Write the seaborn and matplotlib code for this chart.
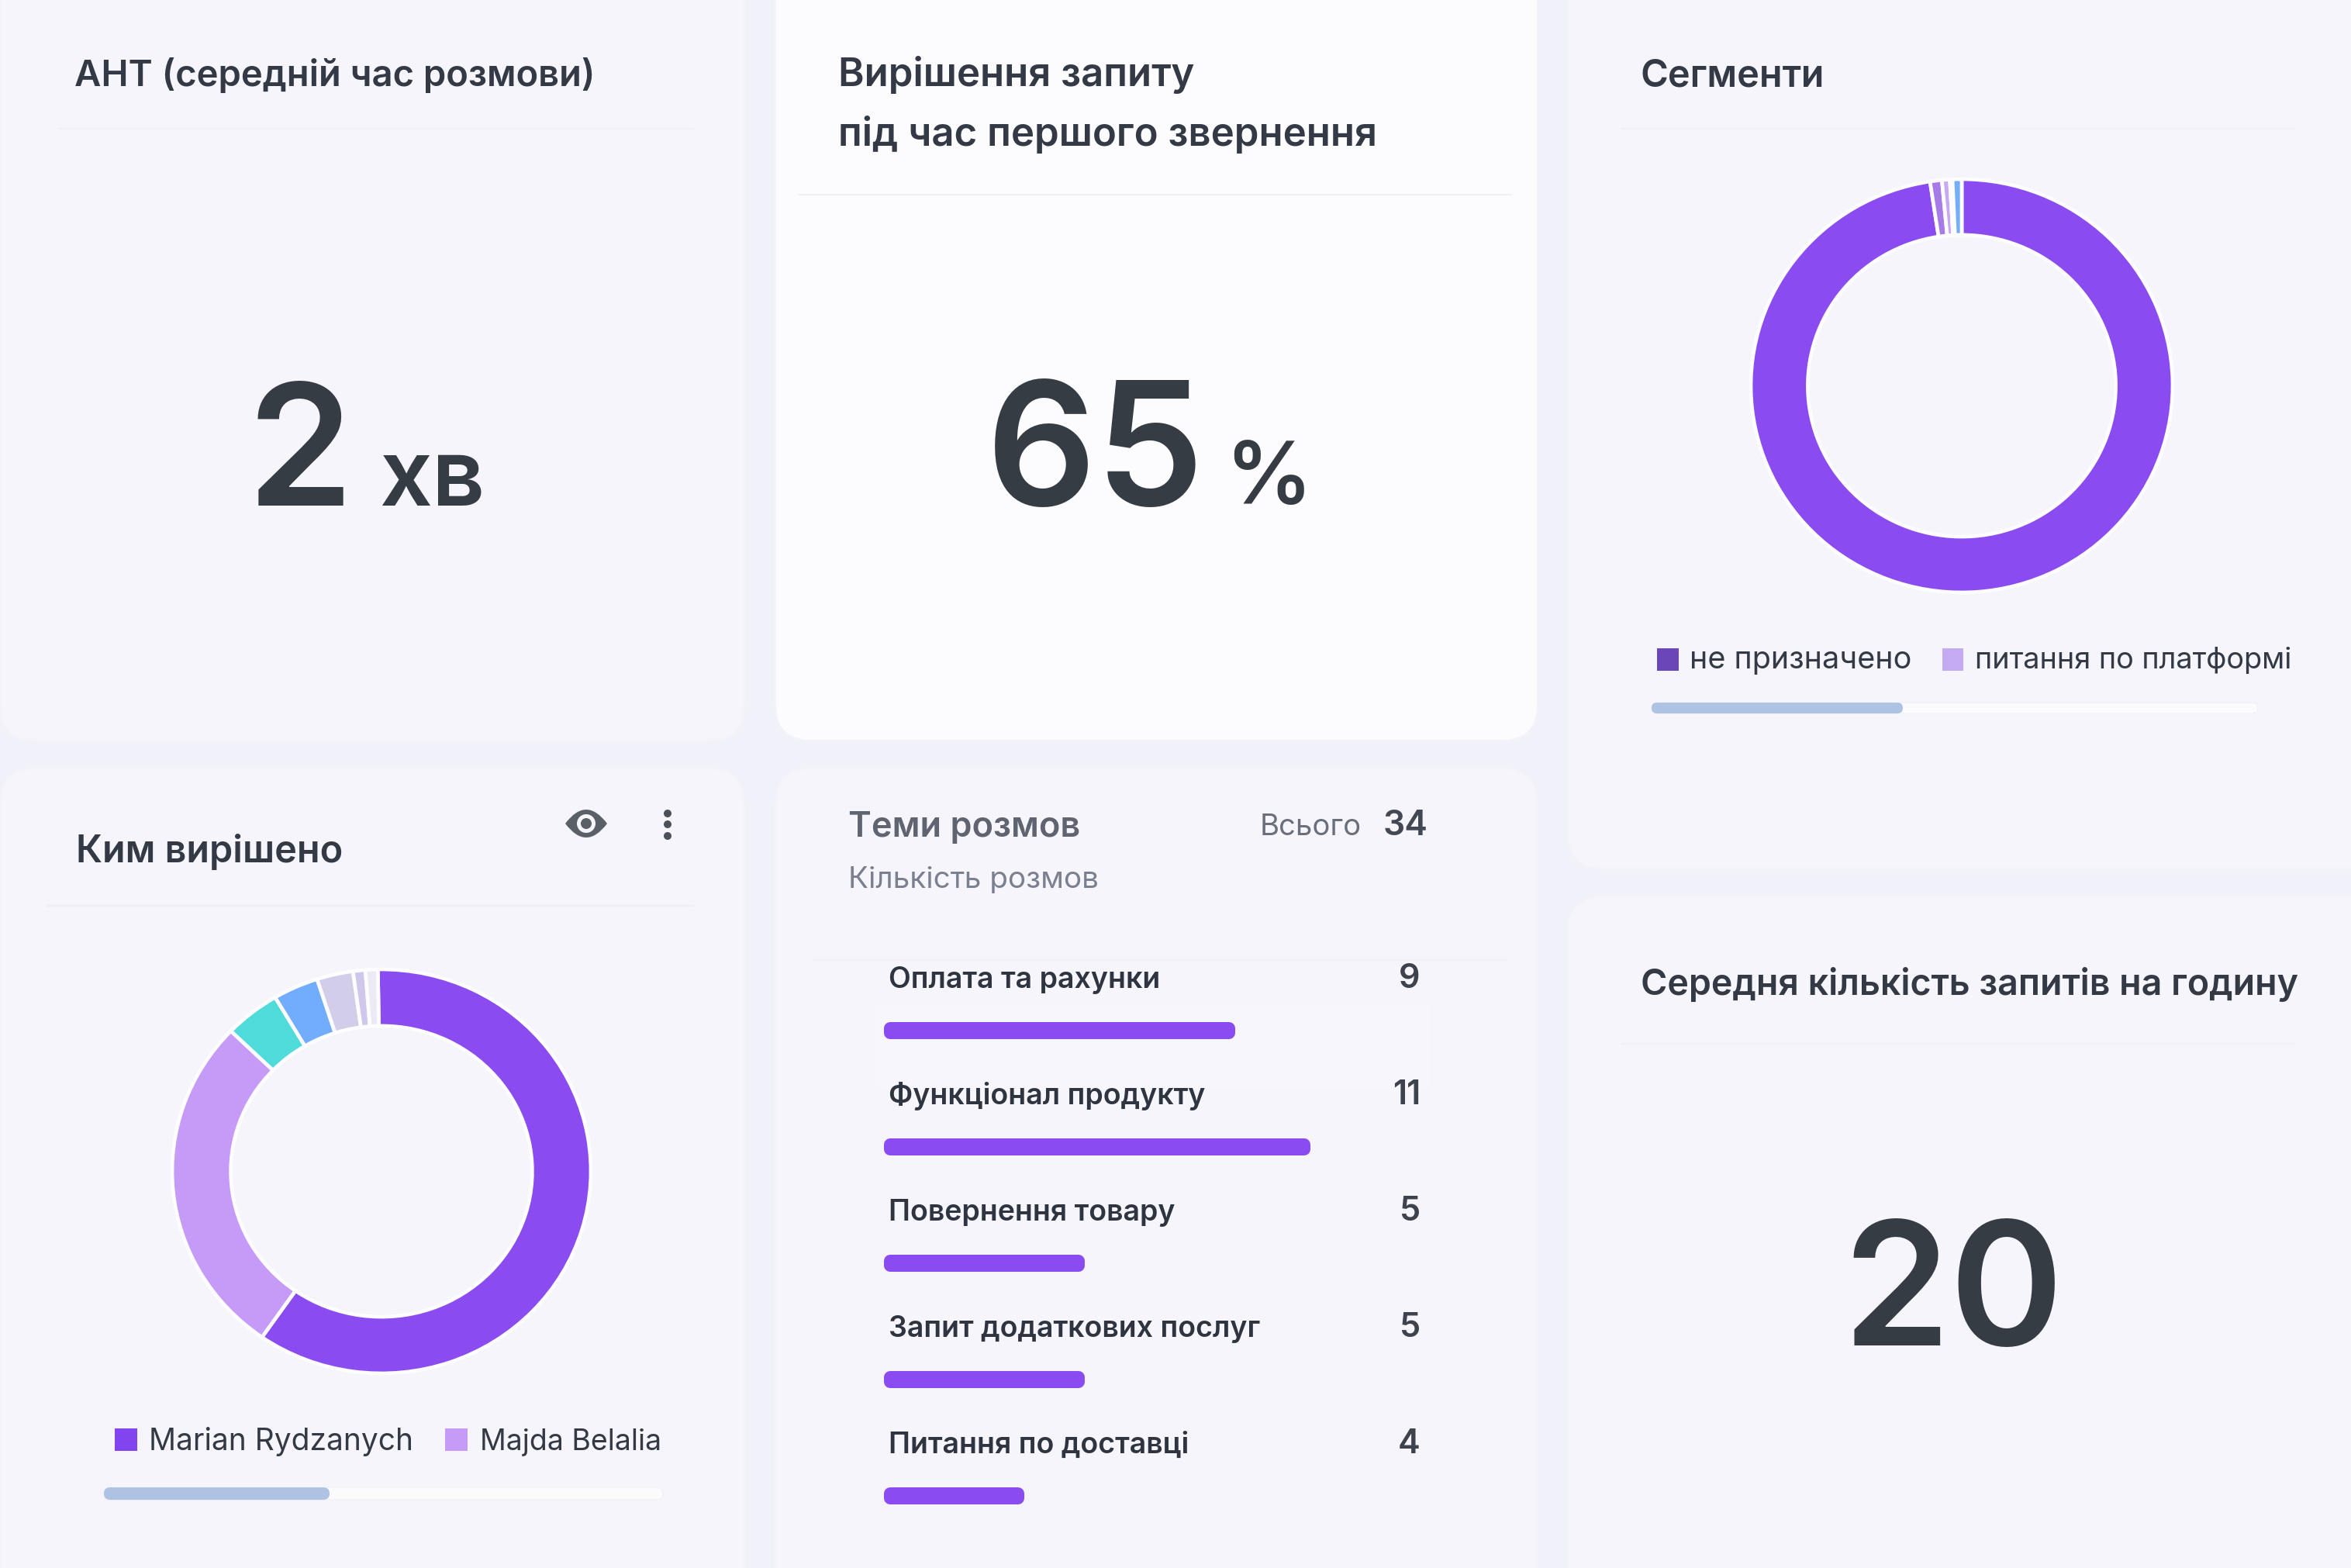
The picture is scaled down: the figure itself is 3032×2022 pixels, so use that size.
import matplotlib
matplotlib.use("Agg")
import matplotlib.pyplot as plt
import pandas as pd
import seaborn as sns
from matplotlib.patches import FancyBboxPatch, Rectangle, Circle, PathPatch
from matplotlib.path import Path

# values
segment_shares = [97.4, 0.9, 0.6, 0.2, 0.7]
segment_colors = ["#8a4bf0", "#a67be8", "#c6a8f4", "#dcdcea", "#74aef8"]
segment_legend = ["не призначено", "питання по платформі"]

resolver_shares = [59.95, 27.55, 4.3, 3.5, 2.8, 0.95, 0.95]
resolver_colors = ["#8a4bf0", "#c69bf8", "#4fdbd9", "#72acfc", "#d2cee9", "#cfc8ea", "#ecebf5"]
resolver_legend = ["Marian Rydzanych", "Majda Belalia"]

topics = ["Оплата та рахунки", "Функціонал продукту", "Повернення товару",
          "Запит додаткових послуг", "Питання по доставці"]
topic_counts = [9, 11, 5, 5, 4]
topic_bar_lengths = [9, 11, 5, 5, 3.4]  # last bar is drawn shorter in the picture

W, H = 3032, 2022
PAGE = "#f1f1f9"
CARD = "#f7f5fc"
INK = "#333a45"
PURPLE = "#8a4bf0"

sns.set_theme(style="white")
plt.rcParams["font.family"] = ["Inter", "DejaVu Sans"]

fig = plt.figure(figsize=(W / 100, H / 100), dpi=100, facecolor=PAGE)
bg = fig.add_axes([0, 0, 1, 1])
bg.set_xlim(0, W)
bg.set_ylim(H, 0)
bg.axis("off")


def px_axes(x0, y0, x1, y1):
    return fig.add_axes([x0 / W, 1 - y1 / H, (x1 - x0) / W, (y1 - y0) / H])


def card(x0, y0, x1, y1, color=CARD):
    bg.add_patch(FancyBboxPatch((x0 + 46, y0 + 46), x1 - x0 - 92, y1 - y0 - 92,
                                boxstyle="round,pad=46,rounding_size=46",
                                fc=color, ec="#f4f3fa", lw=1.5))


def divider(x0, x1, y):
    bg.plot([x0, x1], [y, y], color="#f0eff6", lw=1.5, solid_capstyle="butt")


def label(x, y, s, size, color=INK, weight="normal", ha="left"):
    bg.text(x, y, s, fontsize=size, color=color, fontweight=weight, ha=ha, va="baseline")


def donut(box, shares, colors, start, hole):
    ax = px_axes(*box)
    ax.pie(shares, colors=colors, startangle=start, counterclock=False, radius=1,
           wedgeprops=dict(width=1 - hole, edgecolor="#fdfcff", linewidth=3.4))
    ax.set_aspect("auto")
    ax.set_xlim(-1, 1)
    ax.set_ylim(-1, 1)
    return ax


def scrollbar(x0, x1, thumb, y0, y1):
    h = y1 - y0
    bg.add_patch(FancyBboxPatch((x0 + h / 2, y0 + h / 2), x1 - x0 - h, 0.01,
                                boxstyle=f"round,pad={h / 2}", fc="#fbfbfe", ec="#f2f1f8", lw=1))
    bg.add_patch(FancyBboxPatch((x0 + h / 2, y0 + h / 2), thumb - x0 - h, 0.01,
                                boxstyle=f"round,pad={h / 2}", fc="#aec3e4", ec="none"))


card(0, -60, 960, 955)
card(1000, -60, 1983, 955, color="#fcfbfe")
card(2022, -60, 3100, 1120)
card(0, 991, 960, 2100)
card(1000, 991, 1983, 2100)
card(2022, 1156, 3100, 2100)

# AHT
label(96, 111, "АНТ (середній час розмови)", 34, weight="semibold")
divider(75, 895, 166)
label(319, 652, "2", 158, weight="semibold", color="#363c44")
label(489, 652, "хв", 86, weight="semibold", color="#363c44")

# first contact resolution
label(1081, 111, "Вирішення запиту", 36.7, weight="semibold")
label(1081, 188, "під час першого звернення", 36.7, weight="semibold")
divider(1030, 1950, 251)
label(1272, 652, "65", 160, weight="semibold", color="#363c44")
label(1580, 650, "%", 80, weight="semibold", color="#363c44")

# segments
label(2116, 111, "Сегменти", 35, weight="semibold")
divider(2090, 2960, 166)
donut((2258, 231, 2802, 764), segment_shares, segment_colors, 90, 0.73)
bg.add_patch(Rectangle((2137, 836), 28, 29, fc="#6b46b8", ec="none"))
label(2179, 862, segment_legend[0], 28.5)
bg.add_patch(Rectangle((2505, 836), 27, 29, fc="#c4aaf0", ec="none"))
label(2547, 862, segment_legend[1], 27.3)
scrollbar(2130, 2912, 2454, 906, 920)

# resolved by
label(98, 1112, "Ким вирішено", 35, weight="semibold")
divider(60, 895, 1168)
donut((222, 1250, 762, 1771), resolver_shares, resolver_colors, 91, 0.72)
bg.add_patch(Rectangle((148, 1842), 29, 29, fc="#8244ee", ec="none"))
label(192, 1870, resolver_legend[0], 28)
bg.add_patch(Rectangle((574, 1842), 29, 29, fc="#c69bf8", ec="none"))
label(619, 1870, resolver_legend[1], 27)
scrollbar(134, 855, 425, 1918, 1934)

eye = Path([(729, 1062), (756, 1026), (783, 1062), (756, 1098), (729, 1062)],
           [Path.MOVETO, Path.CURVE3, Path.CURVE3, Path.CURVE3, Path.CURVE3])
bg.add_patch(PathPatch(eye, fc="#5b5f68", ec="none"))
bg.add_patch(Circle((756, 1062), 12, fc=CARD, ec="none"))
bg.add_patch(Circle((756, 1062), 7, fc="#5b5f68", ec="none"))
for dot_y in (1049, 1063, 1078):
    bg.add_patch(Circle((861, dot_y), 5, fc="#4c5058", ec="none"))

# topics
bg.add_patch(Rectangle((1130, 1295), 715, 110, fc="#f8f6fd", ec="none"))
label(1094, 1079, "Теми розмов", 32.5, color="#5f6470", weight="semibold")
label(1094, 1145, "Кількість розмов", 27.8, color="#7b8090")
label(1625, 1077, "Всього", 27.5, color="#6a6f7c")
label(1842, 1077, "34", 32, color="#434855", weight="semibold", ha="right")
divider(1048, 1945, 1238)

topic_df = pd.DataFrame({"topic": topics, "length": topic_bar_lengths})
bar_ax = px_axes(1148, 1254, 1730, 2004)
sns.barplot(data=topic_df, y="topic", x="length", orient="h", ax=bar_ax, color=PURPLE,
            saturation=1, width=0.04, edgecolor=PURPLE, linewidth=11.5)
for bar in bar_ax.patches:
    bar.set_joinstyle("round")
    bar.set_clip_on(False)
bar_ax.set_xlim(0, 12)
bar_ax.set_ylim(4.5, -0.5)
bar_ax.axis("off")
for i, (topic, count) in enumerate(zip(topics, topic_counts)):
    bar_ax.text(-0.04, i - 0.37, topic, fontsize=27, color="#2f3540", fontweight="semibold",
                ha="left", va="baseline")
    bar_ax.text(14.1, i - 0.37, str(count), fontsize=31, color="#3d424d", fontweight="semibold",
                ha="right", va="baseline")

# requests per hour
label(2116, 1283, "Середня кількість запитів на годину", 33.5, weight="semibold")
divider(2090, 2960, 1346)
label(2376, 1735, "20", 160, weight="semibold", color="#363c44")

fig.savefig("out.png", dpi=100, facecolor=PAGE)
